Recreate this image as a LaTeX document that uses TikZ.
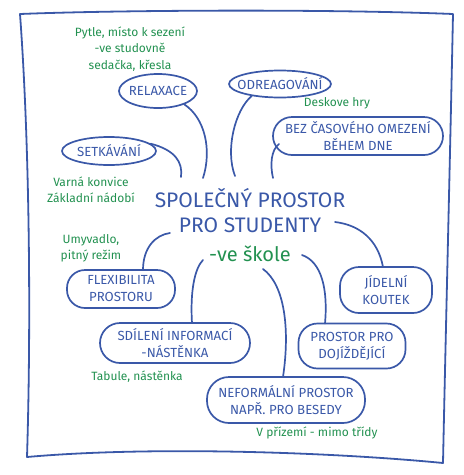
\documentclass[tikz,border=0pt]{standalone}
\usepackage{fontspec}
\setmainfont{Fira Sans}
\usetikzlibrary{calc,shapes.geometric}
\definecolor{inkblue}{RGB}{58,88,168}
\definecolor{inkgreen}{RGB}{34,145,80}
\tikzset{
  blob/.style={draw=inkblue, line width=1.7pt, text=inkblue, inner sep=0pt,
    align=center, font=\fontsize{13.2}{17}\selectfont},
  oval/.style={blob, ellipse, inner xsep=-12pt, inner ysep=-3pt},
  note/.style={text=inkgreen, align=center, inner sep=0pt,
    font=\fontsize{12}{16.5}\selectfont},
  link/.style={draw=inkblue, line width=1.7pt, line cap=round},
}
\begin{document}
\begin{tikzpicture}[x=1pt,y=-1pt]
\useasboundingbox (0,0) rectangle (464,475);
% frame
\draw[inkblue, line width=1.8pt, line join=round]
  (20,14) .. controls (120,10) and (330,9) .. (453,14)
  .. controls (450,160) and (446,320) .. (443,463)
  .. controls (330,452) and (150,446) .. (27,457)
  .. controls (31,330) and (30,150) .. (20,14) -- cycle;

% title
\node[text=inkblue, align=center, inner sep=0pt,
  font=\fontsize{21}{25}\selectfont] (title) at (250,210.5) {SPOLEČNÝ PROSTOR\\PRO STUDENTY};
\node[text=inkgreen, inner sep=0pt, font=\fontsize{20}{22}\selectfont] (sub) at (250,254) {-ve škole};

% nodes
\node[oval, minimum width=78, minimum height=34] (relax) at (158,91) {RELAXACE};
\node[oval, minimum width=94, minimum height=28] (setk) at (109,151) {SETKÁVÁNÍ};
\node[oval, minimum width=102, minimum height=27] (odreag) at (280,84) {ODREAGOVÁNÍ};
\node[blob, minimum width=170, minimum height=38, rounded corners=19] (bez) at (358,136) {BEZ ČASOVÉHO OMEZENÍ\\BĚHEM DNE};
\node[blob, minimum width=108, minimum height=38, rounded corners=18] (flex) at (121,289) {FLEXIBILITA\\PROSTORU};
\node[blob, minimum width=150, minimum height=40, rounded corners=20] (sdil) at (175,343) {SDÍLENÍ INFORMACÍ\\-NÁSTĚNKA};
\node[blob, minimum width=158, minimum height=46, rounded corners=22] (neform) at (286,400) {NEFORMÁLNÍ PROSTOR\\NAPŘ. PRO BESEDY};
\node[blob, minimum width=107, minimum height=45, rounded corners=19] (proj) at (352,346) {PROSTOR PRO\\DOJÍŽDĚJÍCÍ};
\node[blob, minimum width=92, minimum height=46, rounded corners=19] (jidel) at (386,290) {JÍDELNÍ\\KOUTEK};

% notes
\node[note] (n1) at (130,49) {Pytle, místo k sezení\\-ve studovně\\sedačka, křesla};
\node[note] (n2) at (337,103) {Deskove hry};
\node[note, font=\fontsize{12}{16}\selectfont] (n3) at (91,190) {Varná konvice\\Základní nádobí};
\node[note, font=\fontsize{12}{16}\selectfont] (n4) at (91,248) {Umyvadlo,\\pitný režim};
\node[note] (n5) at (137,377) {Tabule, nástěnka};
\node[note] (n6) at (317,433) {V přízemí - mimo třídy};

% free ends at the title
\coordinate (e1) at (203,178);
\coordinate (e2) at (181,177);
\coordinate (e3) at (235,176);
\coordinate (e4) at (273,178);
\coordinate (e5) at (170,233);
\coordinate (e6) at (203,260);
\coordinate (e7) at (263,269);
\coordinate (e8) at (302,255);
\coordinate (e9) at (335,222);

% connectors
\draw[link] (relax.-27) .. controls (205,118) and (212,150) .. (e1);
\draw[link] (setk.10) .. controls (175,150) and (183,162) .. (e2);
\draw[link] (odreag.-157) .. controls (235,110) and (225,150) .. (e3);
\draw[link] ($(bez.center)+(-79,8)$) .. controls (271,150) and (270,165) .. (e4);
\draw[link] ($(flex.center)+(22,-19)$) .. controls (143,248) and (155,235) .. (e5);
\draw[link] ($(sdil.center)+(17,-20)$) .. controls (190,290) and (195,268) .. (e6);
\draw[link] ($(neform.center)+(-3,-23)$) .. controls (290,330) and (285,285) .. (e7);
\draw[link] ($(proj.center)+(-27,-22.5)$) .. controls (328,290) and (322,262) .. (e8);
\draw[link] ($(jidel.center)+(-3,-23)$) .. controls (378,240) and (360,225) .. (e9);
\end{tikzpicture}
\end{document}
